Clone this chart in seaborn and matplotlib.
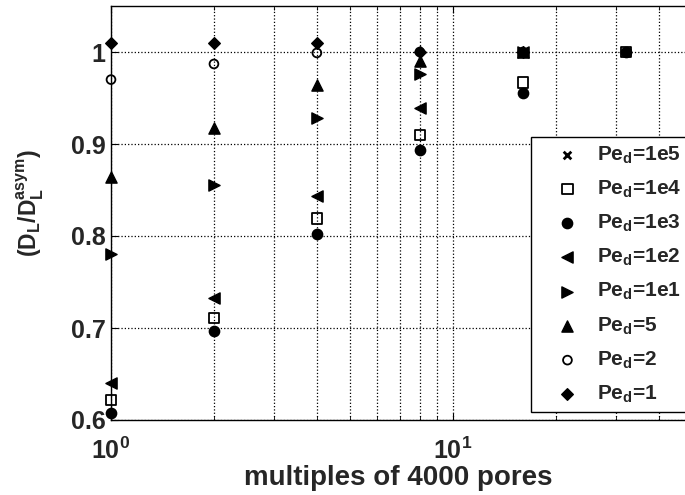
import numpy as np
import pandas as pd
import matplotlib
matplotlib.use("Agg")
import matplotlib.pyplot as plt
import seaborn as sns
from matplotlib.ticker import FixedLocator, FixedFormatter, LogLocator, NullFormatter

# ---- data ----
labels = ["Pe$_d$=1e5", "Pe$_d$=1e4", "Pe$_d$=1e3", "Pe$_d$=1e2",
          "Pe$_d$=1e1", "Pe$_d$=5", "Pe$_d$=2", "Pe$_d$=1"]
x_pe1e5 = [16, 32]
y_pe1e5 = [1.0, 1.0]
x_pe1e4 = [1, 2, 4, 8, 16, 32]
y_pe1e4 = [0.622, 0.711, 0.819, 0.910, 0.967, 1.0]
x_pe1e3 = [1, 2, 4, 8, 16, 32]
y_pe1e3 = [0.608, 0.697, 0.802, 0.894, 0.955, 1.0]
x_pe1e2 = [1, 2, 4, 8, 16]
y_pe1e2 = [0.640, 0.733, 0.843, 0.939, 1.0]
x_pe1e1 = [1, 2, 4, 8, 16]
y_pe1e1 = [0.780, 0.855, 0.928, 0.976, 1.0]
x_pe5 = [1, 2, 4, 8, 16]
y_pe5 = [0.864, 0.917, 0.964, 0.990, 1.0]
x_pe2 = [1, 2, 4, 8, 16]
y_pe2 = [0.970, 0.987, 0.999, 1.0, 1.0]
x_pe1 = [1, 2, 4, 8, 16]
y_pe1 = [1.010, 1.010, 1.010, 1.0, 1.0]
y_ticks = [0.6, 0.7, 0.8, 0.9, 1.0]
y_ticklabels = ["0.6", "0.7", "0.8", "0.9", "1"]
x_ticks = [1, 10]
x_ticklabels = ["$10^{0}$", "$10^{1}$"]

xs = [x_pe1e5, x_pe1e4, x_pe1e3, x_pe1e2, x_pe1e1, x_pe5, x_pe2, x_pe1]
ys = [y_pe1e5, y_pe1e4, y_pe1e3, y_pe1e2, y_pe1e1, y_pe5, y_pe2, y_pe1]
styles = [("x", "k", 30, 2.0), ("s", "none", 55, 1.3), ("o", "k", 55, 1.0),
          ("<", "k", 65, 1.0), (">", "k", 65, 1.0), ("^", "k", 65, 1.0),
          ("o", "none", 40, 1.3), ("D", "k", 35, 1.0)]

sns.set_style("ticks")
plt.rcParams["font.family"] = ["Liberation Sans", "DejaVu Sans"]
plt.rcParams["font.weight"] = "bold"
plt.rcParams["mathtext.fontset"] = "custom"
plt.rcParams["mathtext.rm"] = "Liberation Sans:bold"
plt.rcParams["mathtext.it"] = "Liberation Sans:bold"
plt.rcParams["mathtext.bf"] = "Liberation Sans:bold"
plt.rcParams["mathtext.default"] = "bf"

fig = plt.figure(figsize=(6.85, 4.95), dpi=100)
ax = fig.add_axes([111/685, 75/495, 581/685, 414/495])

for lab, x, y, (m, fc, s, lw) in zip(labels, xs, ys, styles):
    df = pd.DataFrame({"x": x, "y": y})
    sns.scatterplot(data=df, x="x", y="y", ax=ax, marker=m, s=s,
                    facecolors=fc, edgecolors="k", color="k",
                    linewidths=lw, label=lab, zorder=3, clip_on=False)

ax.set_xscale("log")
ax.set_xlim(1, 50)
ax.set_ylim(0.6, 1.05)
ax.xaxis.set_major_locator(FixedLocator(x_ticks))
ax.xaxis.set_major_formatter(FixedFormatter(x_ticklabels))
ax.xaxis.set_minor_locator(LogLocator(base=10, subs=np.arange(2, 10)))
ax.xaxis.set_minor_formatter(NullFormatter())
ax.yaxis.set_major_locator(FixedLocator(y_ticks))
ax.yaxis.set_major_formatter(FixedFormatter(y_ticklabels))

ax.grid(True, which="major", linestyle=":", color="k", linewidth=0.9)
ax.grid(True, which="minor", axis="x", linestyle=":", color="k", linewidth=0.9)
ax.tick_params(which="both", direction="in", labelsize=18, top=True, right=False,
               color="k")
ax.tick_params(axis="x", which="major", length=5, pad=13)
ax.tick_params(axis="y", which="major", length=5, pad=4)
ax.tick_params(which="minor", length=3)
for sp in ["left", "top", "bottom"]:
    ax.spines[sp].set_visible(True)
    ax.spines[sp].set_color("k")
    ax.spines[sp].set_linewidth(1.0)
ax.spines["right"].set_visible(False)

ax.set_xlabel("multiples of 4000 pores", fontsize=20, fontweight="bold")
ax.xaxis.set_label_coords(0.494, -0.108)
ax.set_ylabel(r"(D$_L$/D$_L^{asym}$)", fontsize=16.5, fontweight="bold")
ax.yaxis.set_label_coords(-0.112, 0.525)

leg = ax.legend(loc="upper left", bbox_to_anchor=(531/685, 1 - 137/495),
                bbox_transform=fig.transFigure, borderaxespad=0, fontsize=15,
                frameon=True, fancybox=False, edgecolor="k", framealpha=1,
                labelspacing=0.62, handletextpad=0.0, borderpad=0.35,
                handlelength=2.8)
leg.get_frame().set_linewidth(1.0)

fig.savefig("out.png", dpi=100)
